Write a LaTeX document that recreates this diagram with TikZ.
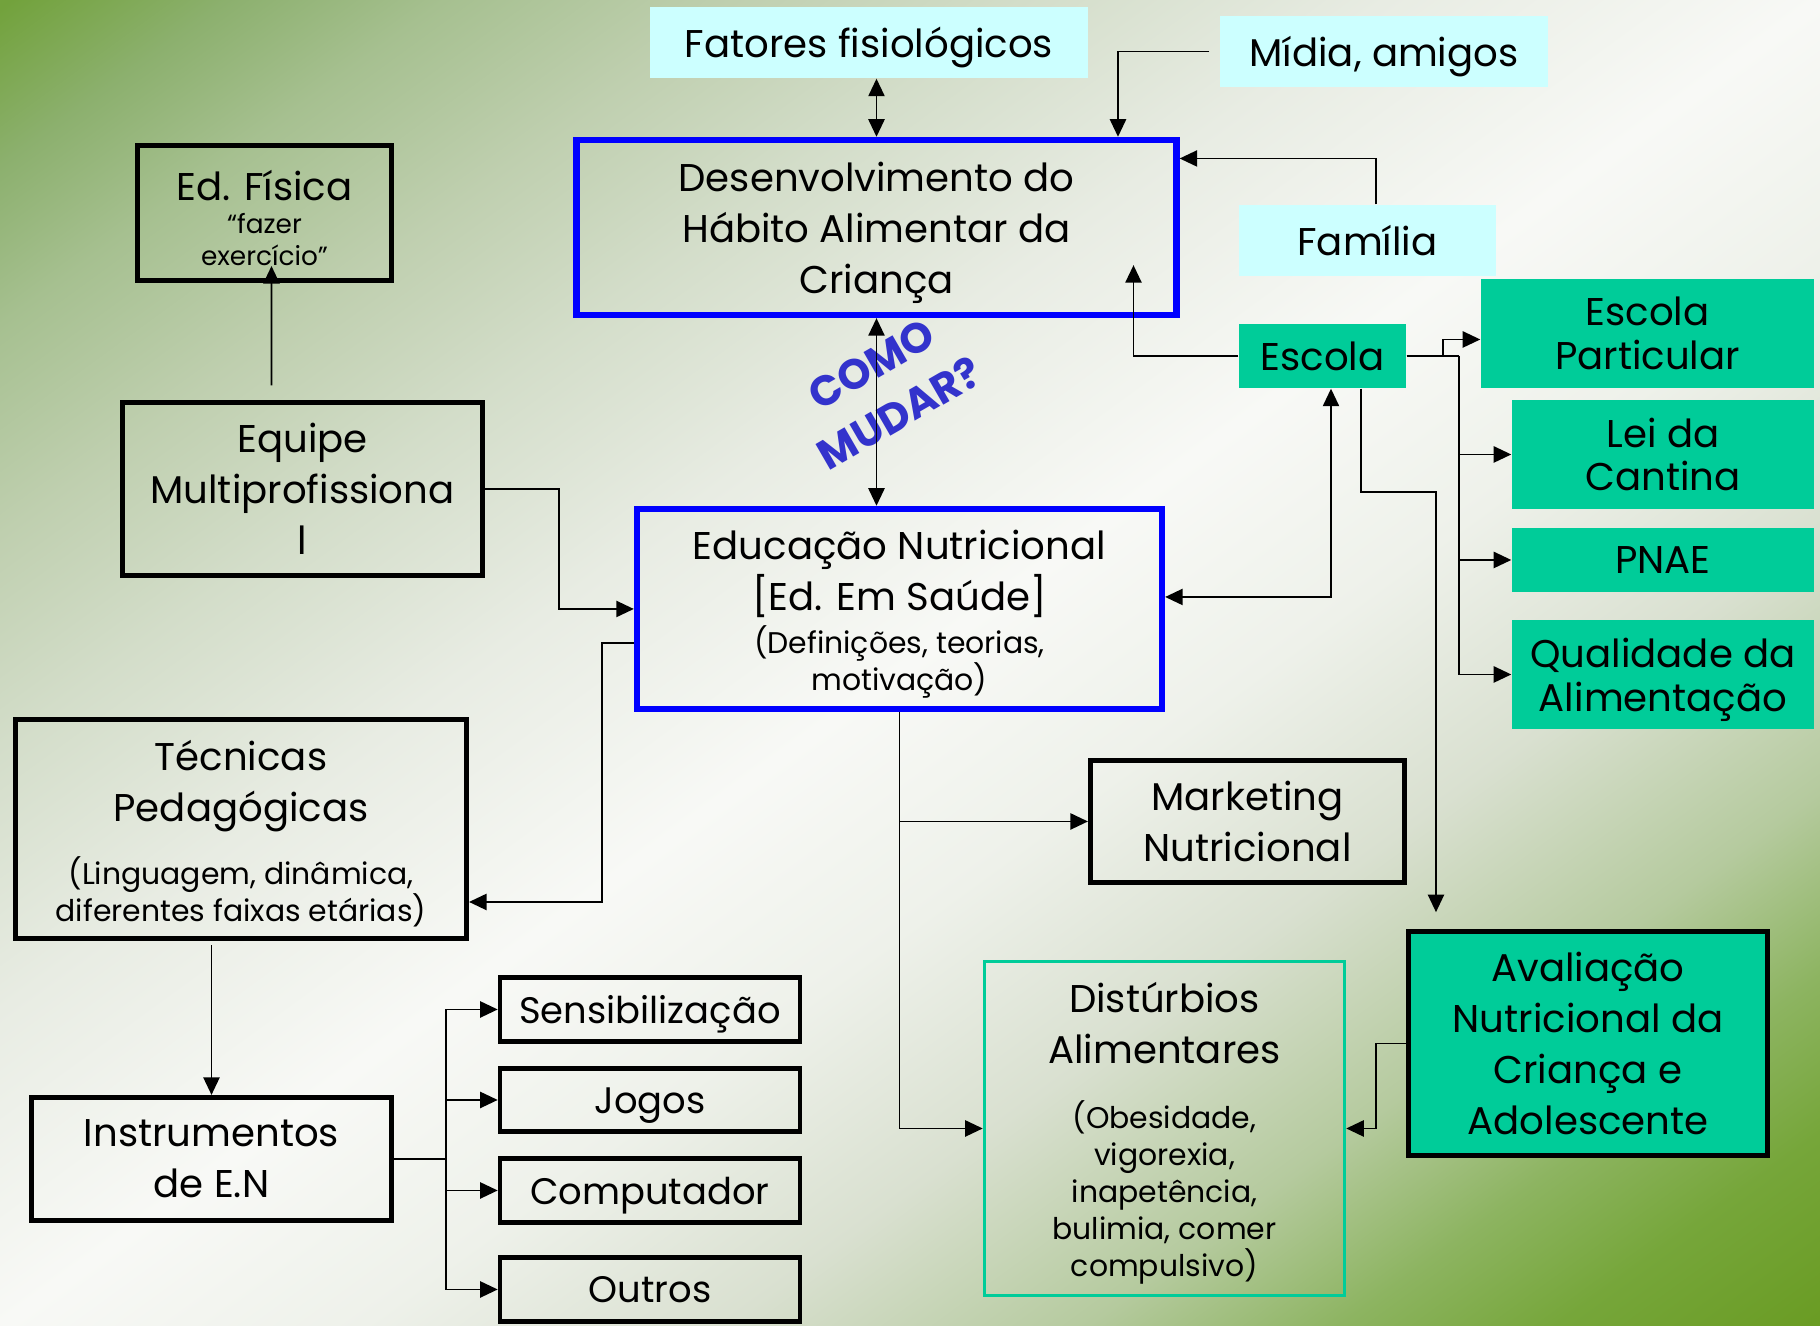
\documentclass[tikz,border=0pt]{standalone}
\usepackage{fontspec}
\setmainfont{Poppins}
\usetikzlibrary{arrows.meta}

\definecolor{cyanfill}{HTML}{CCFFFF}
\definecolor{greenfill}{HTML}{00CC99}
\definecolor{boxblue}{HTML}{0000FF}
\definecolor{comoblue}{HTML}{3333CC}
\definecolor{bga}{HTML}{72A23C}
\definecolor{bgb}{HTML}{8CB06E}
\definecolor{bgc}{HTML}{A6C090}
\definecolor{bgd}{HTML}{BFCFAF}
\definecolor{bge}{HTML}{D3DDC9}
\definecolor{bgf}{HTML}{E8ECE3}
\definecolor{bgg}{HTML}{F8F9F6}
\definecolor{bgh}{HTML}{EEF1EA}
\definecolor{bgi}{HTML}{D9E0D0}
\definecolor{bgj}{HTML}{B5CA9E}
\definecolor{bgk}{HTML}{8DB461}
\definecolor{bgl}{HTML}{76A63A}
\definecolor{bgm}{HTML}{6A9C24}
% stops sit between 14.65bp and 85.36bp: the corners of the rotated square
\pgfdeclarehorizontalshading{bgfade}{100bp}{color(0bp)=(bga); color(14.65bp)=(bga); color(18.89bp)=(bgb); color(23.13bp)=(bgc); color(28.79bp)=(bgd); color(34.44bp)=(bge); color(41.52bp)=(bgf); color(50bp)=(bgg); color(57.07bp)=(bgh); color(64.14bp)=(bgi); color(71.21bp)=(bgj); color(76.16bp)=(bgk); color(80.4bp)=(bgl); color(85.36bp)=(bgm); color(100bp)=(bgm)}

\newcommand{\sml}{\fontsize{8.5}{10.5}\selectfont}
\newcommand{\tny}{\fontsize{7.5}{9}\selectfont}
\newcommand{\tp}{\rule{0pt}{1.03em}}

\begin{document}
\begin{tikzpicture}[
    every node/.style={font=\fontsize{11}{14.5}\selectfont, align=center, inner sep=0pt},
    cyanbox/.style={fill=cyanfill},
    greenbox/.style={fill=greenfill},
    tight/.style={font=\fontsize{11}{12.5}\selectfont},
    blackbox/.style={draw=black, line width=1.3pt},
    bluebox/.style={draw=boxblue, line width=1.8pt},
    tealbox/.style={draw=greenfill, line width=1pt},
    sz/.style 2 args={minimum width=#1cm, minimum height=#2cm},
    arr/.style={-{Triangle[length=5pt,width=4.6pt]}, line width=0.55pt},
    dbl/.style={{Triangle[length=5pt,width=4.6pt]}-{Triangle[length=5pt,width=4.6pt]}, line width=0.55pt}]
    \useasboundingbox (0,0) rectangle (18.2,13.26);
    % background
    \begin{scope}[transform canvas={xscale=1.37255}]
        \shade[shading=bgfade, shading angle=-45] (0,0) rectangle (13.26,13.26);
    \end{scope}

    % top row
    \node[cyanbox, sz={4.38}{0.71}] (fat) at (8.69,12.835) {\tp Fatores fisiológicos};
    \node[cyanbox, sz={3.28}{0.71}] (mid) at (13.84,12.745) {\tp Mídia, amigos};
    \node[bluebox, sz={6.0}{1.75}] (des) at (8.765,10.985)
        {\tp Desenvolvimento do\\Hábito Alimentar da\\Criança};
    \node[cyanbox, sz={2.57}{0.71}] (fam) at (13.675,10.855) {Família};
    \node[blackbox, sz={2.545}{1.355}] (edf) at (2.645,11.13)
        {\tp Ed. Física\\[-5pt]{\tny “fazer}\\[-5.5pt]{\tny exercício”}};

    % escola and the boxes right of it
    \node[greenbox, sz={1.67}{0.64}] (esc) at (13.225,9.70) {Escola};
    \node[greenbox, tight, sz={3.33}{1.09}] (epa) at (16.475,9.925) {Escola\\Particular};
    \node[greenbox, tight, sz={3.02}{1.09}] (lei) at (16.63,8.715) {Lei da\\Cantina};
    \node[greenbox, sz={3.02}{0.64}] (pna) at (16.63,7.66) {PNAE};
    \node[greenbox, tight, sz={3.02}{1.09}] (qua) at (16.63,6.515) {\tp Qualidade da\\Alimentação};

    % middle
    \node[blackbox, sz={3.6}{1.735}] (equ) at (3.025,8.37) {Equipe\\Multiprofissiona\\l};
    \node[bluebox, sz={5.25}{2.0}] (edu) at (8.995,7.17)
        {\tp Educação Nutricional\\{[}Ed. Em Saúde{]}\\[-2pt]{\sml (Definições, teorias,}\\[-4pt]{\sml motivação)}};
    \node[rotate=30, text=comoblue, font=\bfseries\fontsize{12}{16}\selectfont] (como) at (8.855,9.37)
        {COMO\\MUDAR?};
    \node[blackbox, sz={4.515}{2.195}] (tec) at (2.41,4.97)
        {\tp Técnicas\\Pedagógicas\\[3.5pt]{\sml (Linguagem, dinâmica,}\\[-4pt]{\sml diferentes faixas etárias)}};
    \node[blackbox, sz={3.145}{1.225}] (mkt) at (12.475,5.045) {Marketing\\Nutricional};

    % bottom
    \node[tealbox, sz={3.6}{3.34}] (dis) at (11.645,1.975)
        {\tp Distúrbios\\Alimentares\\[4pt]{\sml (Obesidade,}\\[-4pt]{\sml vigorexia,}\\[-4pt]{\sml inapetência,}\\[-4pt]{\sml bulimia, comer}\\[-4pt]{\sml compulsivo)}};
    \node[greenbox, blackbox, sz={3.59}{2.24}] (ava) at (15.88,2.825)
        {Avaliação\\Nutricional da\\Criança e\\Adolescente};
    \node[blackbox, sz={3.6}{1.235}] (ins) at (2.115,1.67) {Instrumentos\\de E.N};
    \node[blackbox, sz={3.0}{0.645}, font=\fontsize{10.5}{14}\selectfont] (sen) at (6.5,3.165) {\tp Sensibilização};
    \node[blackbox, sz={3.0}{0.635}, font=\fontsize{10.5}{14}\selectfont] (jog) at (6.5,2.26) {\tp Jogos};
    \node[blackbox, sz={3.0}{0.645}, font=\fontsize{10.5}{14}\selectfont] (com) at (6.5,1.355) {\tp Computador};
    \node[blackbox, sz={3.0}{0.645}, font=\fontsize{10.5}{14}\selectfont] (out) at (6.5,0.365) {Outros};

    % connectors
    \draw[dbl] (des.north) -- (des.north |- fat.south);
    \draw[dbl] (des.south) -- (des.south |- edu.north);
    \draw[arr] ([xshift=-0.1cm]mid.west) -| ([xshift=2.415cm]des.north);
    \draw[arr] ([xshift=0.085cm]fam.north) |- ([yshift=0.69cm]des.east);
    \draw[arr] (esc.west) -| ([xshift=2.57cm,yshift=0.53cm]des.south);
    \draw[arr] (esc.east) -- ++(0.36,0) |- ([yshift=-0.06cm]epa.west);
    \draw (esc.east) -- ++(0.525,0) coordinate (sp);
    \foreach \n in {lei,pna,qua}
        \draw[arr] (sp) |- (\n.west);
    \draw[arr] ([xshift=0.385cm]esc.south) -- ++(0,-1.03) -| ([xshift=-1.52cm,yshift=0.17cm]ava.north);
    \draw[dbl] ([yshift=0.12cm]edu.east) -| ([xshift=0.085cm]esc.south);
    \draw[arr] (equ.east) -- ++(0.74,0) |- (edu.west);
    \draw[arr] ([yshift=-0.34cm]edu.west) -- ++(-0.32,0) |- ([yshift=-0.73cm]tec.east);
    \draw[arr] ([xshift=-0.31cm,yshift=0.145cm]equ.north) -- ([xshift=0.07cm,yshift=0.17cm]edf.south);
    \draw[arr, shorten <=0.04cm] (ins.north |- tec.south) -- (ins.north);
    \draw (ins.east) -- ++(0.52,0) coordinate (br);
    \foreach \n in {sen,jog,com,out}
        \draw[arr] (br) |- (\n.west);
    \draw[arr] (edu.south) |- (mkt.west);
    \draw[arr] (edu.south) |- (dis.west);
    \draw[arr] (ava.west) -- ++(-0.3,0) |- (dis.east);
\end{tikzpicture}
\end{document}
